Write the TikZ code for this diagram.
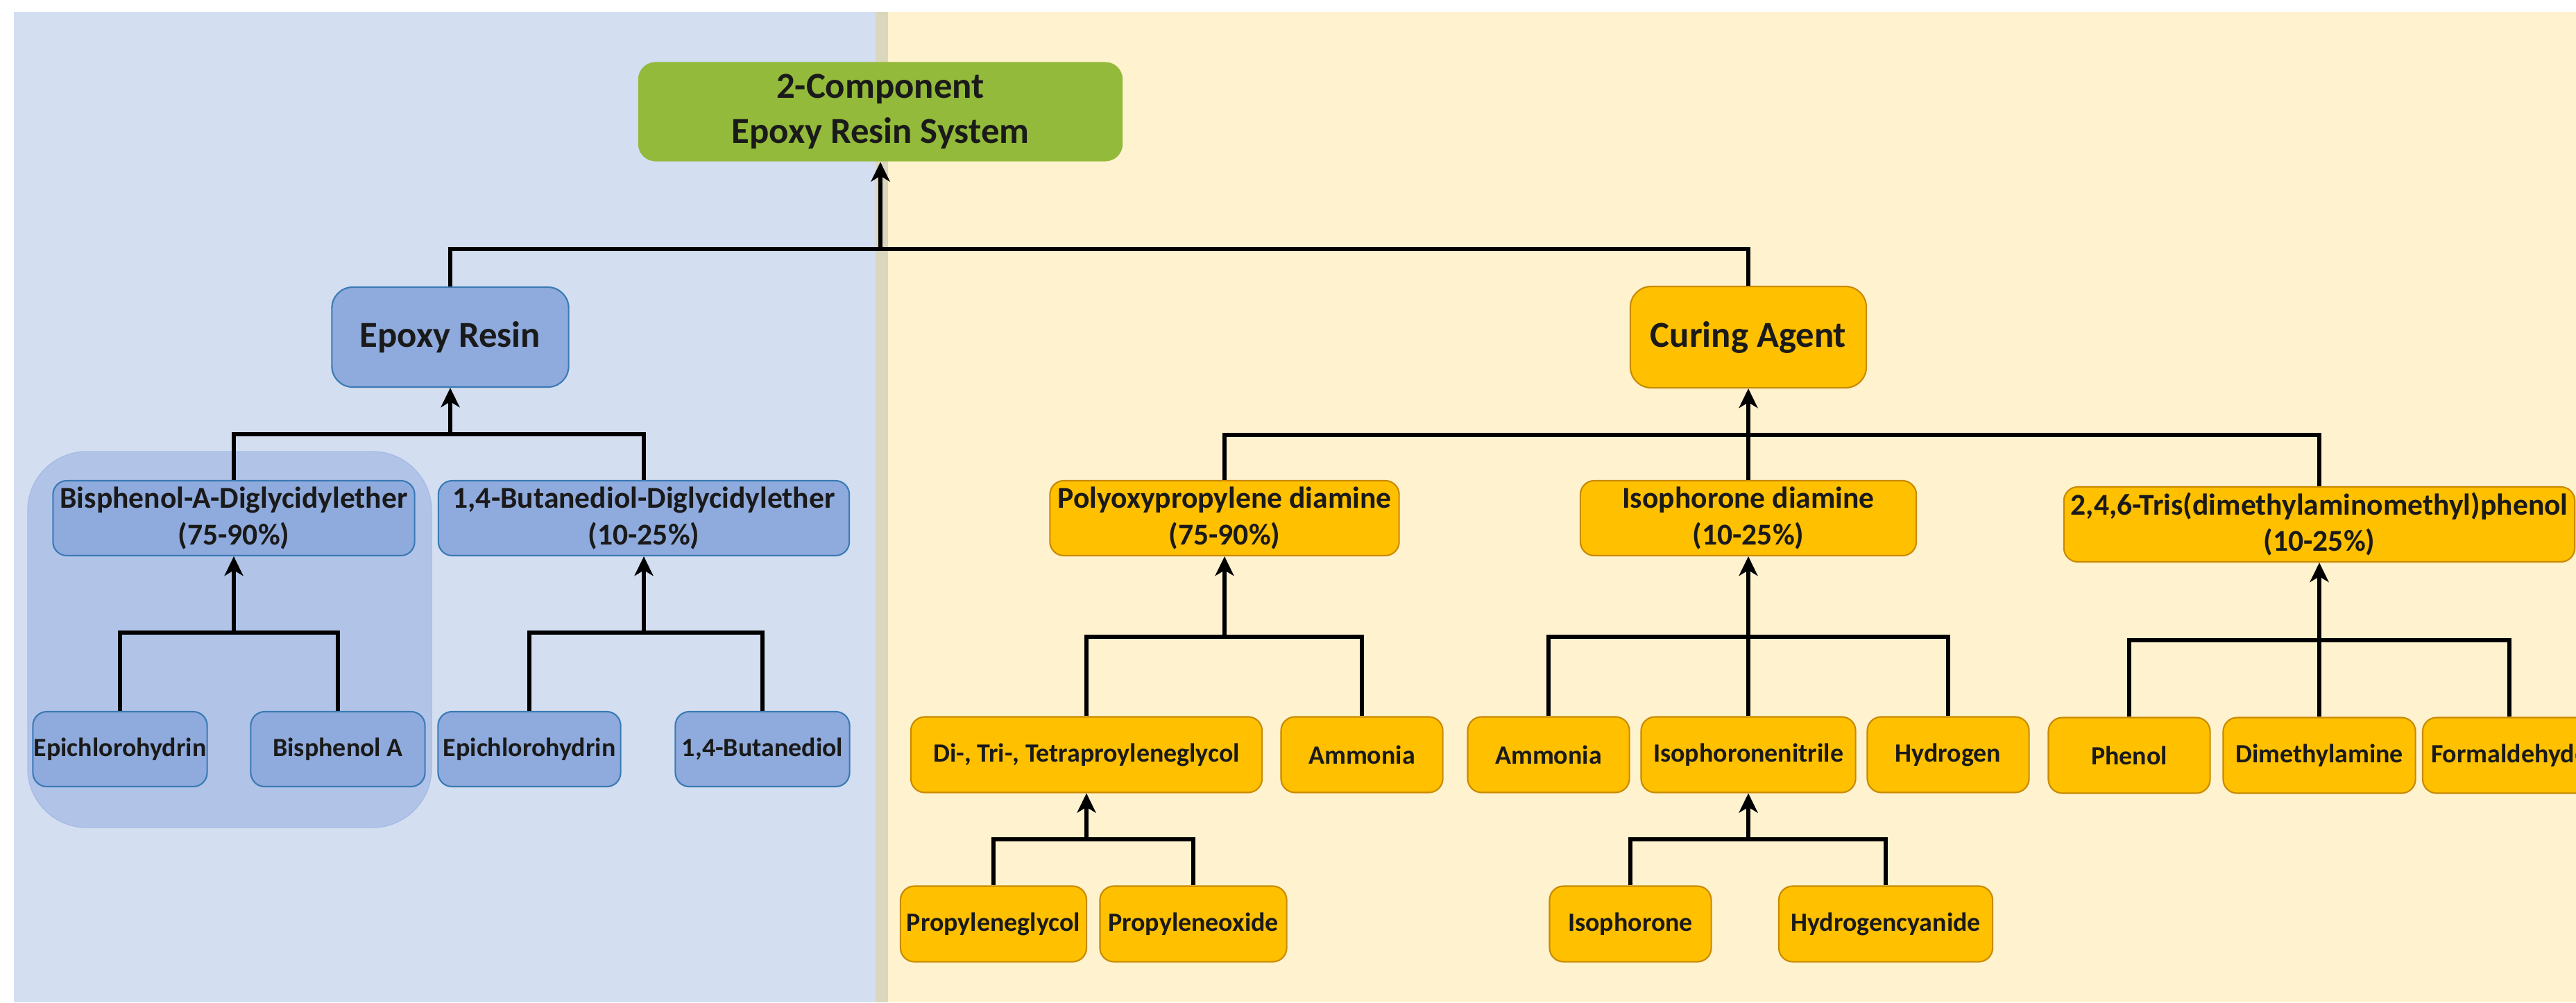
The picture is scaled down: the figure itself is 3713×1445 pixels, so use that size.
\documentclass[tikz,border=0pt]{standalone}
\usepackage{fontspec}
\setmainfont{Carlito}
\usepackage{xcolor}
\usetikzlibrary{positioning,calc,arrows.meta}

\definecolor{panelblue}{HTML}{D3DEF1}
\definecolor{paneltan}{HTML}{DBD7BF}
\definecolor{panelyellow}{HTML}{FFF2CE}
\definecolor{groupblue}{HTML}{B1C4E8}
\definecolor{groupline}{HTML}{A6BBE4}
\definecolor{resinfill}{HTML}{8FAADC}
\definecolor{resinline}{HTML}{3A7AB5}
\definecolor{curefill}{HTML}{FFC000}
\definecolor{cureline}{HTML}{C98A00}
\definecolor{sysfill}{HTML}{93BA3A}
\definecolor{textdark}{HTML}{1A1A1A}

\begin{document}
\begin{tikzpicture}[x=0.01cm, y=-0.01cm,
  box/.style={rounded corners=0.2cm, align=center, inner sep=0pt, text=textdark, line width=0.6pt},
  topfont/.style={font=\fontsize{15}{18.4}\selectfont\bfseries},
  midfont/.style={font=\fontsize{12.4}{14.8}\selectfont\bfseries},
  leaffont/.style={font=\fontsize{10.8}{12.8}\selectfont\bfseries},
  resin/.style={box, fill=resinfill, draw=resinline},
  cure/.style={box, fill=curefill, draw=cureline},
  wire/.style={line width=1.5pt, black},
  arr/.style={wire, -{Stealth[length=2.8mm, width=2.7mm, inset=0.8mm]}}]
  \useasboundingbox (0,0) rectangle (3713,1445);
  % panels
  \fill[white] (0,0) rectangle (3713,1445);
  \fill[panelblue] (20,17) rectangle (1262,1445);
  \fill[paneltan] (1262,17) rectangle (1280,1445);
  \fill[panelyellow] (1280,17) rectangle (3713,1445);
  \filldraw[fill=groupblue, draw=groupline, rounded corners=0.85cm] (40,651) rectangle (622,1193);

  % level 0 and 1
  \node[box, topfont, fill=sysfill, rounded corners=0.25cm, minimum width=6.98cm, minimum height=1.43cm] (sys) at (1269,161) {2-Component\\Epoxy Resin System};
  \node[resin, topfont, rounded corners=0.3cm, minimum width=3.41cm, minimum height=1.44cm] (epoxy) at (649,486) {Epoxy Resin};
  \node[cure, topfont, rounded corners=0.3cm, minimum width=3.40cm, minimum height=1.46cm] (curing) at (2520,486) {Curing Agent};

  % level 2
  \node[resin, midfont, minimum width=5.21cm, minimum height=1.08cm] (badge) at (337,747) {Bisphenol-A-Diglycidylether\\(75-90\%)};
  \node[resin, midfont, minimum width=5.92cm, minimum height=1.08cm] (bddge) at (928,747) {1,4-Butanediol-Diglycidylether\\(10-25\%)};
  \node[cure, midfont, minimum width=5.03cm, minimum height=1.08cm] (poly) at (1765,747) {Polyoxypropylene diamine\\(75-90\%)};
  \node[cure, midfont, minimum width=4.84cm, minimum height=1.08cm] (ipda) at (2520,747) {Isophorone diamine\\(10-25\%)};
  \node[cure, midfont, minimum width=7.36cm, minimum height=1.08cm] (tris) at (3343,756) {2,4,6-Tris(dimethylaminomethyl)phenol\\(10-25\%)};

  % level 3
  \node[resin, leaffont, minimum width=2.51cm, minimum height=1.08cm] (epia) at (173,1080) {Epichlorohydrin};
  \node[resin, leaffont, minimum width=2.51cm, minimum height=1.08cm] (bpa) at (487,1080) {Bisphenol A};
  \node[resin, leaffont, minimum width=2.63cm, minimum height=1.08cm] (epib) at (763,1080) {Epichlorohydrin};
  \node[resin, leaffont, minimum width=2.51cm, minimum height=1.08cm] (bdo) at (1099,1080) {1,4-Butanediol};
  \node[cure, leaffont, minimum width=5.06cm, minimum height=1.09cm] (glycol) at (1566,1088) {Di-, Tri-, Tetraproyleneglycol};
  \node[cure, leaffont, minimum width=2.33cm, minimum height=1.09cm] (nhpoly) at (1963,1088) {Ammonia};
  \node[cure, leaffont, minimum width=2.33cm, minimum height=1.09cm] (nhipda) at (2232,1088) {Ammonia};
  \node[cure, leaffont, minimum width=3.09cm, minimum height=1.09cm] (ipn) at (2520,1088) {Isophoronenitrile};
  \node[cure, leaffont, minimum width=2.33cm, minimum height=1.09cm] (htwo) at (2808,1088) {Hydrogen};
  \node[cure, leaffont, minimum width=2.33cm, minimum height=1.09cm] (phenol) at (3069,1089) {Phenol};
  \node[cure, leaffont, minimum width=2.77cm, minimum height=1.09cm] (dma) at (3343,1089) {Dimethylamine};
  \node[cure, leaffont, minimum width=2.50cm, minimum height=1.09cm] (form) at (3617,1089) {Formaldehyde};

  % level 4
  \node[cure, leaffont, minimum width=2.68cm, minimum height=1.09cm] (pg) at (1432,1332) {Propyleneglycol};
  \node[cure, leaffont, minimum width=2.69cm, minimum height=1.09cm] (po) at (1720,1332) {Propyleneoxide};
  \node[cure, leaffont, minimum width=2.33cm, minimum height=1.09cm] (ipo) at (2350,1332) {Isophorone};
  \node[cure, leaffont, minimum width=3.08cm, minimum height=1.09cm] (hcn) at (2718,1332) {Hydrogencyanide};

  % bus points
  \coordinate (sysbus) at (1269,359);
  \coordinate (epoxybus) at (649,626);
  \coordinate (curingbus) at (2520,627);
  \coordinate (badgebus) at (337,912);
  \coordinate (bddgebus) at (928,912);
  \coordinate (polybus) at (1765,918);
  \coordinate (ipdabus) at (2520,918);
  \coordinate (trisbus) at (3343,923);
  \coordinate (glycolbus) at (1566,1210);
  \coordinate (ipnbus) at (2520,1210);

  % connectors
  \draw[arr] (sysbus) -- (sys.south);
  \draw[wire] (epoxy.north) |- (sysbus);
  \draw[wire] (curing.north) |- (sysbus);

  \draw[arr] (epoxybus) -- (epoxy.south);
  \draw[wire] (badge.north) |- (epoxybus);
  \draw[wire] (bddge.north) |- (epoxybus);

  \draw[arr] (curingbus) -- (curing.south);
  \draw[wire] (poly.north) |- (curingbus);
  \draw[wire] (ipda.north) |- (curingbus);
  \draw[wire] (tris.north) |- (curingbus);

  \draw[arr] (badgebus) -- (badge.south);
  \draw[wire] (epia.north) |- (badgebus);
  \draw[wire] (bpa.north) |- (badgebus);

  \draw[arr] (bddgebus) -- (bddge.south);
  \draw[wire] (epib.north) |- (bddgebus);
  \draw[wire] (bdo.north) |- (bddgebus);

  \draw[arr] (polybus) -- (poly.south);
  \draw[wire] (glycol.north) |- (polybus);
  \draw[wire] (nhpoly.north) |- (polybus);

  \draw[arr] (ipdabus) -- (ipda.south);
  \draw[wire] (nhipda.north) |- (ipdabus);
  \draw[wire] (ipn.north) |- (ipdabus);
  \draw[wire] (htwo.north) |- (ipdabus);

  \draw[arr] (trisbus) -- (tris.south);
  \draw[wire] (phenol.north) |- (trisbus);
  \draw[wire] (dma.north) |- (trisbus);
  \draw[wire] (form.north) |- (trisbus);

  \draw[arr] (glycolbus) -- (glycol.south);
  \draw[wire] (pg.north) |- (glycolbus);
  \draw[wire] (po.north) |- (glycolbus);

  \draw[arr] (ipnbus) -- (ipn.south);
  \draw[wire] (ipo.north) |- (ipnbus);
  \draw[wire] (hcn.north) |- (ipnbus);
\end{tikzpicture}
\end{document}
